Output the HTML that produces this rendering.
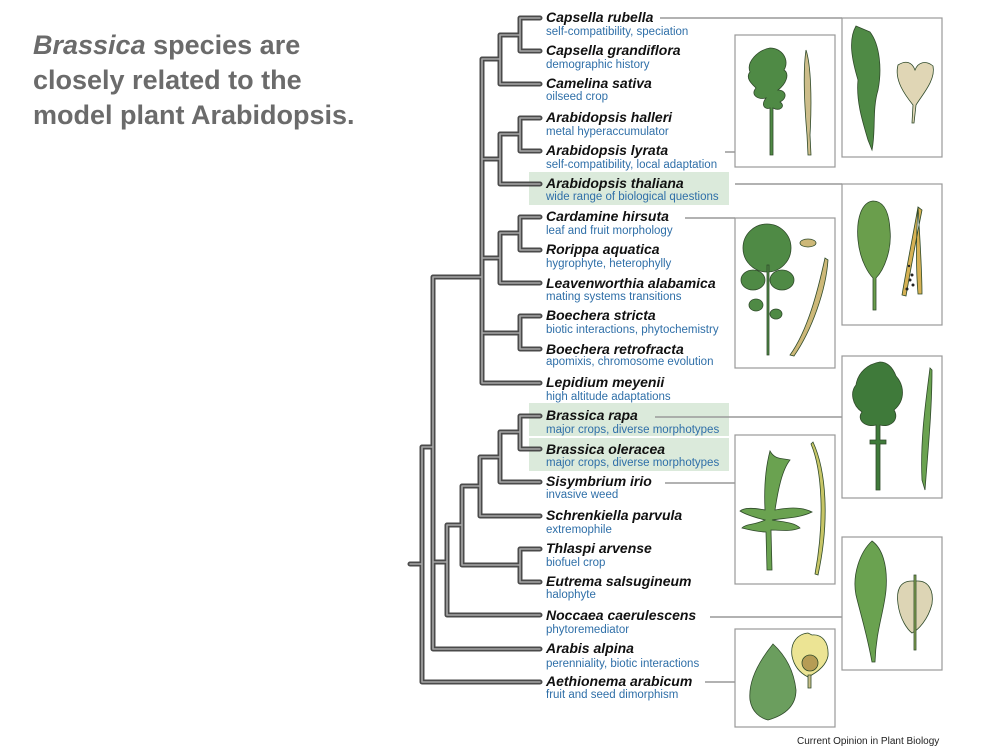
<!DOCTYPE html>
<html><head><meta charset="utf-8"><style>
html,body{margin:0;padding:0;background:#fff}
svg{display:block}
.n{font:bold italic 14px "Liberation Sans",sans-serif;fill:#111}
.s{font:11.5px "Liberation Sans",sans-serif;fill:#2f6fa8}
.t{font:bold 27px "Liberation Sans",sans-serif;fill:#6b6b6b}
</style></head><body>
<svg width="1000" height="750" viewBox="0 0 1000 750" xmlns="http://www.w3.org/2000/svg">
<text class="t" x="33" y="54"><tspan font-style="italic">Brassica</tspan> species are</text>
<text class="t" x="33" y="89">closely related to the</text>
<text class="t" x="33" y="124">model plant Arabidopsis.</text>

<!-- highlights -->
<g fill="#dbeadb">
<rect x="529" y="172" width="200" height="33"/>
<rect x="529" y="403" width="200" height="33"/>
<rect x="529" y="438" width="200" height="33"/>
</g>

<!-- connectors -->
<g stroke="#999" stroke-width="1.5" fill="none">
<path d="M660,18 H842"/>
<path d="M725,152 H735"/>
<path d="M735,184 H842"/>
<path d="M685,218 H735"/>
<path d="M655,417 H842"/>
<path d="M665,483 H735"/>
<path d="M710,617 H842"/>
<path d="M705,682 H735"/>
</g>

<!-- tree -->
<g fill="none" stroke-linejoin="round" stroke-linecap="round">
<g stroke="#4a4a4a" stroke-width="5">
<path d="M540,18 H520 V51 H540 M520,35 H500 V84 H540 M540,118 H520 V151 H540 M520,134 H500 V184 H540 M540,217 H520 V250 H540 M520,233 H500 V283 H540 M540,316 H520 V349 H540 M500,59 H482 V383 H540 M500,159 H482 M500,258 H482 M520,333 H482 M482,277 H433 V649 H540 M540,416 H520 V449 H540 M520,432 H500 V482 H540 M500,457 H480 V516 H540 M480,486 H462 V565 H520 M540,549 H520 V582 H540 M462,525 H447 V615 H540 M447,562 H433 M433,447 H422 V682 H540 M410,564 H422"/>
</g>
<g stroke="#a8a8a8" stroke-width="1.6">
<path d="M540,18 H520 V51 H540 M520,35 H500 V84 H540 M540,118 H520 V151 H540 M520,134 H500 V184 H540 M540,217 H520 V250 H540 M520,233 H500 V283 H540 M540,316 H520 V349 H540 M500,59 H482 V383 H540 M500,159 H482 M500,258 H482 M520,333 H482 M482,277 H433 V649 H540 M540,416 H520 V449 H540 M520,432 H500 V482 H540 M500,457 H480 V516 H540 M480,486 H462 V565 H520 M540,549 H520 V582 H540 M462,525 H447 V615 H540 M447,562 H433 M433,447 H422 V682 H540 M410,564 H422"/>
</g>
</g>

<!-- labels -->
<g>
<text class="n" x="546" y="22">Capsella rubella</text><text class="s" x="546" y="35">self-compatibility, speciation</text>
<text class="n" x="546" y="55">Capsella grandiflora</text><text class="s" x="546" y="68">demographic history</text>
<text class="n" x="546" y="88">Camelina sativa</text><text class="s" x="546" y="100">oilseed crop</text>
<text class="n" x="546" y="122">Arabidopsis halleri</text><text class="s" x="546" y="135">metal hyperaccumulator</text>
<text class="n" x="546" y="155">Arabidopsis lyrata</text><text class="s" x="546" y="168">self-compatibility, local adaptation</text>
<text class="n" x="546" y="188">Arabidopsis thaliana</text><text class="s" x="546" y="200">wide range of biological questions</text>
<text class="n" x="546" y="221">Cardamine hirsuta</text><text class="s" x="546" y="234">leaf and fruit morphology</text>
<text class="n" x="546" y="254">Rorippa aquatica</text><text class="s" x="546" y="267">hygrophyte, heterophylly</text>
<text class="n" x="546" y="288">Leavenworthia alabamica</text><text class="s" x="546" y="300">mating systems transitions</text>
<text class="n" x="546" y="320">Boechera stricta</text><text class="s" x="546" y="333">biotic interactions, phytochemistry</text>
<text class="n" x="546" y="354">Boechera retrofracta</text><text class="s" x="546" y="365">apomixis, chromosome evolution</text>
<text class="n" x="546" y="387">Lepidium meyenii</text><text class="s" x="546" y="400">high altitude adaptations</text>
<text class="n" x="546" y="420">Brassica rapa</text><text class="s" x="546" y="433">major crops, diverse morphotypes</text>
<text class="n" x="546" y="454">Brassica oleracea</text><text class="s" x="546" y="466">major crops, diverse morphotypes</text>
<text class="n" x="546" y="486">Sisymbrium irio</text><text class="s" x="546" y="498">invasive weed</text>
<text class="n" x="546" y="520">Schrenkiella parvula</text><text class="s" x="546" y="533">extremophile</text>
<text class="n" x="546" y="553">Thlaspi arvense</text><text class="s" x="546" y="566">biofuel crop</text>
<text class="n" x="546" y="586">Eutrema salsugineum</text><text class="s" x="546" y="598">halophyte</text>
<text class="n" x="546" y="620">Noccaea caerulescens</text><text class="s" x="546" y="633">phytoremediator</text>
<text class="n" x="546" y="653">Arabis alpina</text><text class="s" x="546" y="667">perenniality, biotic interactions</text>
<text class="n" x="546" y="686">Aethionema arabicum</text><text class="s" x="546" y="698">fruit and seed dimorphism</text>
</g>

<!-- boxes -->
<g fill="#fff" stroke="#999" stroke-width="1.2">
<rect x="735" y="35" width="100" height="132"/>
<rect x="842" y="18" width="100" height="139"/>
<rect x="842" y="184" width="100" height="141"/>
<rect x="735" y="218" width="100" height="150"/>
<rect x="842" y="356" width="100" height="142"/>
<rect x="735" y="435" width="100" height="149"/>
<rect x="842" y="537" width="100" height="133"/>
<rect x="735" y="629" width="100" height="98"/>
</g>

<!-- plants -->
<g stroke="#2f4a2a" stroke-width="0.8">
<path d="M770,48 C758,50 746,62 750,72 C745,78 752,84 756,88 C750,95 758,100 766,98 C760,106 766,110 770,108 V155 H773 V108 C780,112 786,106 780,102 C788,98 786,90 778,90 C786,84 790,74 784,70 C790,60 782,48 770,48 Z" fill="#4f8a45"/>
<path d="M806,50 C811,65 812,100 810,135 L811,155 H808 L807,135 C804,100 803,70 806,50 Z" fill="#cdbd8a"/>
<path d="M856,26 C848,40 852,60 858,80 C856,100 862,120 868,140 L872,150 C876,130 872,110 878,90 C882,70 880,45 870,32 Z" fill="#4f8a45"/>
<path d="M898,65 C906,60 912,62 915,70 C918,62 926,60 933,66 C936,80 922,95 916,105 L914,123 H912 L913,105 C905,95 894,80 898,65 Z" fill="#e0d6b5"/>
<path d="M873,201 C862,202 856,218 858,240 C860,262 870,275 873,278 V310 H876 V278 C884,270 892,250 890,230 C889,212 884,201 873,201 Z" fill="#6a9e4c"/>
<path d="M918,207 C914,230 908,260 902,295 L906,296 C912,262 918,230 922,210 Z M918,207 C920,240 922,270 922,294 L918,294 C916,270 916,240 918,207 Z" fill="#d6b154"/>
<g fill="#222" stroke="none"><circle cx="910" cy="280" r="1.5"/><circle cx="913" cy="285" r="1.5"/><circle cx="907" cy="289" r="1.5"/><circle cx="912" cy="275" r="1.5"/><circle cx="909" cy="266" r="1.2"/></g>
<circle cx="767" cy="248" r="24" fill="#4f8a45"/>
<ellipse cx="753" cy="280" rx="12" ry="10" fill="#4f8a45"/>
<ellipse cx="782" cy="280" rx="12" ry="10" fill="#4f8a45"/>
<ellipse cx="756" cy="305" rx="7" ry="6" fill="#4f8a45"/>
<ellipse cx="776" cy="314" rx="6" ry="5" fill="#4f8a45"/>
<path d="M767,265 V355 H769 V265 Z" fill="#4f8a45"/>
<path d="M825,258 C818,290 808,330 790,355 L794,356 C812,330 826,290 828,260 Z" fill="#cdb878"/>
<ellipse cx="808" cy="243" rx="8" ry="4" fill="#cdb878"/>
<path d="M880,362 C868,364 858,372 856,385 C850,392 852,405 862,412 C856,420 866,428 876,425 L876,440 H870 V444 H876 V490 H880 V444 H886 V440 H880 V425 C890,428 900,420 894,410 C906,400 904,385 896,376 C892,366 886,362 880,362 Z" fill="#3f7a3a"/>
<path d="M930,368 C926,400 920,440 922,480 L925,490 C928,450 932,410 932,370 Z" fill="#6aa250"/>
<path d="M770,451 C765,470 764,490 765,510 C755,508 745,507 740,511 C748,516 758,518 765,520 C755,525 745,524 742,528 C750,530 760,532 766,532 L767,570 H772 L771,530 C780,530 790,532 800,528 C794,522 782,522 772,520 C785,518 800,518 812,512 C800,506 786,508 775,510 C778,490 782,470 790,460 C782,458 775,460 770,451 Z" fill="#6aa250"/>
<path d="M813,442 C826,470 830,520 818,575 L815,574 C825,520 822,470 811,444 Z" fill="#c7c566"/>
<path d="M872,541 C860,552 852,575 856,595 C860,612 866,630 872,662 L875,662 C876,630 884,612 886,590 C888,565 882,548 872,541 Z" fill="#6aa250"/>
<path d="M912,581 C900,581 896,590 898,604 C900,620 908,630 912,633 C918,630 928,620 932,604 C934,590 928,581 918,581 Z" fill="#ddd5b5"/>
<path d="M914,575 V650 H916 V575 Z" fill="#8aaa55"/>
<path d="M773,644 C760,660 748,680 750,700 C752,712 760,718 768,720 C782,716 796,708 796,690 C794,672 786,656 773,644 Z" fill="#6b9e5e"/>
<path d="M808,633 C798,634 790,642 792,656 C794,666 800,673 808,677 C816,673 826,666 828,656 C829,642 822,634 812,635 Z" fill="#ece494"/>
<ellipse cx="810" cy="663" rx="8" ry="8" fill="#b69c55"/>
<path d="M808,675 V688 H811 V675 Z" fill="#c9c08a"/>
</g>

<text x="797" y="744" font-family="Liberation Sans, sans-serif" font-size="10" fill="#222">Current Opinion in Plant Biology</text>
</svg>
</body></html>
